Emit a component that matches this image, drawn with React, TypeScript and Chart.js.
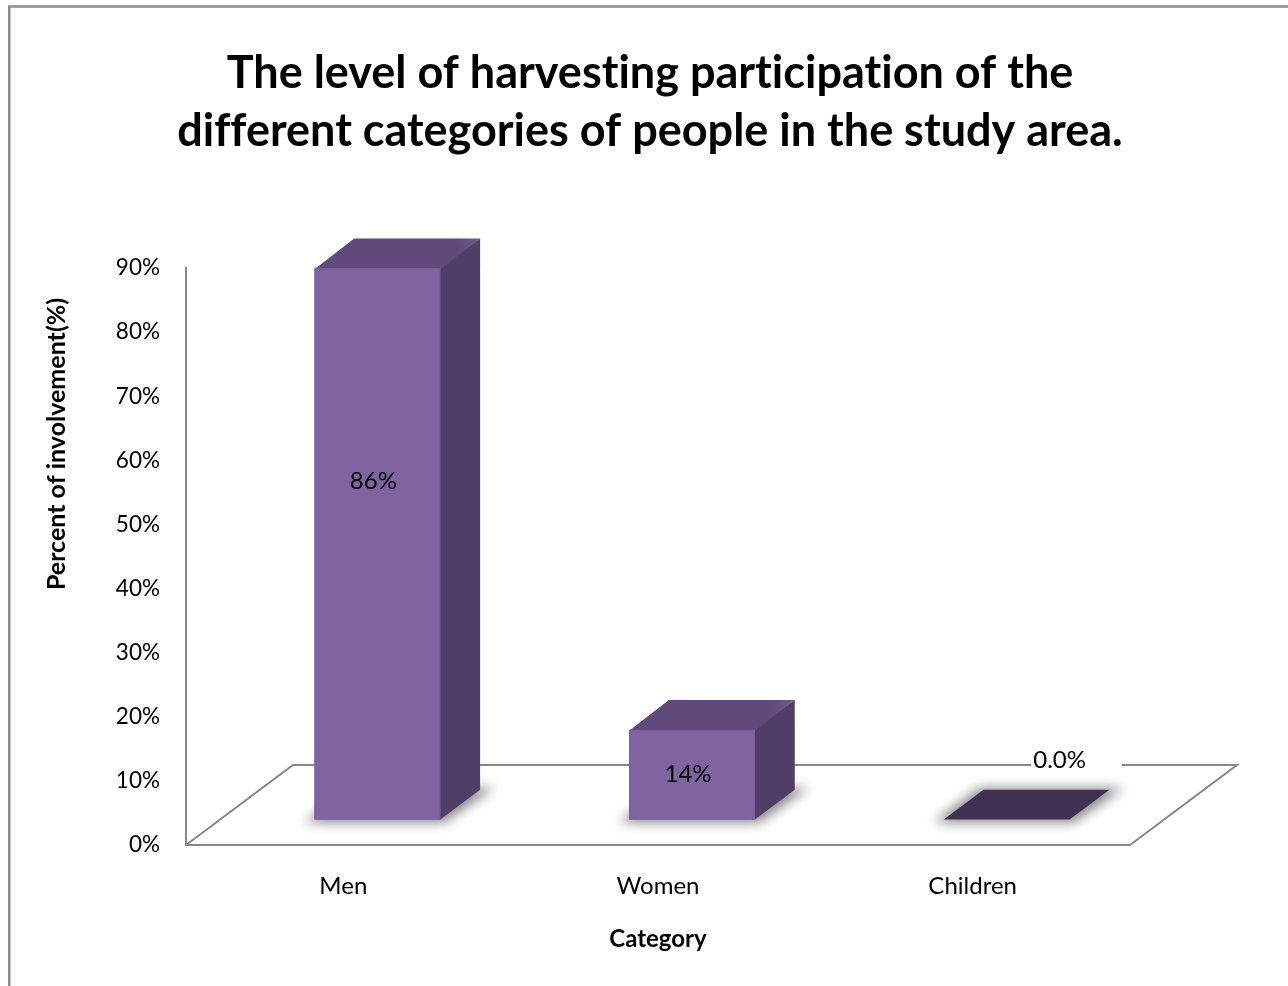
import React, { useEffect, useRef } from "react";
import { Chart, registerables } from "chart.js";

Chart.register(...registerables);

// Share of each group taking part in harvesting (%)
const categories: string[] = ["Men", "Women", "Children"];
const involvement: number[] = [86, 14, 0];
const yTickValues: number[] = [0, 10, 20, 30, 40, 50, 60, 70, 80, 90];

const titleLines: string[] = [
  "The level of harvesting participation of the",
  "different categories of people in the study area.",
];
const yAxisTitle = "Percent of involvement(%)";
const xAxisTitle = "Category";

const FONT = "Lato, 'Open Sans', 'DejaVu Sans', sans-serif";
const AXIS_GREY = "#878787";

const formatValue = (v: number): string => (v === 0 ? v.toFixed(1) + "%" : v + "%");

// Draws the floor, the 3-D bar blocks with their soft base shadows, and the value labels.
const bar3dPlugin = {
  id: "bar3d",
  beforeDraw(chart: any, _args: any, opts: any) {
    const ctx = chart.ctx;
    try {
      (ctx as any).textRendering = "optimizeSpeed";
    } catch (e) {
      /* older canvas */
    }
    ctx.save();
    ctx.fillStyle = "#ffffff";
    ctx.fillRect(0, 0, chart.width, chart.height);
    ctx.strokeStyle = opts.frameColor;
    ctx.lineWidth = 2.5;
    ctx.strokeRect(9.25, 6.5, chart.width + 40, chart.height + 40);
    ctx.restore();
  },
  beforeDatasetsDraw(chart: any, _args: any, opts: any) {
    const ctx = chart.ctx;
    const { left, right } = chart.chartArea;
    const ys = chart.scales.y;
    const D = opts.depth;
    const y0 = ys.getPixelForValue(0);

    // floor outline (front edge comes from the x axis border)
    ctx.save();
    ctx.strokeStyle = AXIS_GREY;
    ctx.lineWidth = 2;
    ctx.beginPath();
    ctx.moveTo(left, y0);
    ctx.lineTo(left + D.dx, y0 + D.dy);
    ctx.lineTo(right + D.dx, y0 + D.dy);
    ctx.lineTo(right, y0);
    ctx.stroke();
    ctx.restore();

    const meta = chart.getDatasetMeta(0);
    const values: number[] = chart.data.datasets[0].data;
    const fx = opts.front * D.dx;
    const fy = opts.front * D.dy;
    const bx = (opts.back - opts.front) * D.dx;
    const by = (opts.back - opts.front) * D.dy;

    const boxes = meta.data.map((el: any, i: number) => {
      const { x, width } = el.getProps(["x", "width"], true);
      const l = x - width / 2 + fx;
      const r = x + width / 2 + fx;
      const b = y0 + fy;
      const t = ys.getPixelForValue(values[i]) + fy;
      return { l, r, b, t, v: values[i] };
    });

    // soft shadows on the floor
    boxes.forEach((q: any) => {
      ctx.save();
      ctx.filter = "blur(6px)";
      ctx.fillStyle = "rgba(40,40,40,0.55)";
      ctx.beginPath();
      ctx.moveTo(q.l - 10, q.b + 3);
      ctx.lineTo(q.r + 4, q.b + 3);
      ctx.lineTo(q.r + bx + 14, q.b + by - 2);
      ctx.lineTo(q.l + bx - 4, q.b + by - 2);
      ctx.closePath();
      ctx.fill();
      ctx.restore();
    });

    // bar blocks
    boxes.forEach((q: any) => {
      const { l, r, b, t } = q;
      ctx.save();
      if (b - t < 1) {
        ctx.fillStyle = opts.flatColor;
        ctx.beginPath();
        ctx.moveTo(l, b);
        ctx.lineTo(r, b);
        ctx.lineTo(r + bx, b + by);
        ctx.lineTo(l + bx, b + by);
        ctx.closePath();
        ctx.fill();
        ctx.restore();
        return;
      }
      // side face (starts a touch under the front face so no seam shows)
      ctx.fillStyle = opts.sideColor;
      ctx.beginPath();
      ctx.moveTo(r - 2, b);
      ctx.lineTo(r - 2, t);
      ctx.lineTo(r + bx, t + by);
      ctx.lineTo(r + bx, b + by);
      ctx.lineTo(r, b);
      ctx.closePath();
      ctx.fill();
      // top face
      const g = ctx.createLinearGradient(l, t, r + bx, t + by);
      g.addColorStop(0, opts.topColor);
      g.addColorStop(0.85, opts.topColor);
      g.addColorStop(1, opts.topLight);
      ctx.fillStyle = g;
      ctx.beginPath();
      ctx.moveTo(l, t + 1);
      ctx.lineTo(r, t + 1);
      ctx.lineTo(r + bx, t + by);
      ctx.lineTo(l + bx, t + by);
      ctx.closePath();
      ctx.fill();
      // front face
      ctx.fillStyle = opts.frontColor;
      ctx.fillRect(l, t, r - l, b - t);
      ctx.strokeStyle = opts.frontEdge;
      ctx.lineWidth = 1;
      ctx.strokeRect(l + 0.5, t + 0.5, r - l - 1, b - t - 1);
      ctx.restore();
    });

    // value labels
    ctx.save();
    ctx.font = `${opts.labelSize}px ${FONT}`;
    ctx.fillStyle = "#000000";
    ctx.textAlign = "center";
    ctx.textBaseline = "middle";
    boxes.forEach((q: any, i: number) => {
      const text = formatValue(q.v);
      if (q.b - q.t < 1) {
        const cx = (q.l + q.r) / 2 + bx / 2 + opts.flatLabel.dx;
        const cy = q.b + by / 2 + opts.flatLabel.dy;
        const w = ctx.measureText(text).width;
        ctx.fillStyle = "#ffffff";
        ctx.fillRect(cx - w / 2 - 2, cy - 12, w + 38, 24);
        ctx.fillStyle = "#000000";
        ctx.fillText(text, cx, cy);
      } else {
        const frac = opts.labelAnchor[i] ?? 0.5;
        const cx = (q.l + q.r) / 2 - 4;
        const cy = q.b - (q.b - q.t) * frac;
        ctx.fillText(text, cx, cy);
      }
    });
    ctx.restore();
    return false;
  },
  afterDraw(chart: any, _args: any, opts: any) {
    // vertical value-axis title, set beside the tick labels
    const ctx = chart.ctx;
    ctx.save();
    ctx.font = `bold ${opts.yTitleSize}px ${FONT}`;
    ctx.fillStyle = "#000000";
    ctx.textAlign = "center";
    ctx.textBaseline = "middle";
    ctx.translate(opts.yTitlePos.x, opts.yTitlePos.y);
    ctx.rotate(-Math.PI / 2);
    ctx.fillText(yAxisTitle, 0, 0);
    ctx.restore();
  },
};

export default function App() {
  const canvasRef = useRef<HTMLCanvasElement | null>(null);

  useEffect(() => {
    const canvas = canvasRef.current;
    if (!canvas) return;
    const chart = new Chart(canvas, {
      type: "bar",
      data: {
        labels: categories,
        datasets: [
          {
            label: "Involvement",
            data: involvement,
            backgroundColor: "#8064A2",
            categoryPercentage: 1,
            barPercentage: 0.4,
          },
        ],
      },
      options: {
        responsive: false,
        animation: false,
        layout: { padding: { left: 12, right: 0, top: 0, bottom: 0 } },
        plugins: {
          legend: { display: false },
          tooltip: { enabled: false },
          title: {
            display: true,
            text: titleLines,
            color: "#000000",
            font: { family: FONT, size: 45, weight: "bold", lineHeight: 1.29 },
            padding: { top: 44, bottom: 108 },
          },
          bar3d: {
            depth: { dx: 107, dy: -80 },
            front: 0.318,
            back: 0.69,
            frontColor: "#8064A2",
            frontEdge: "#7a5f9b",
            sideColor: "#503E67",
            topColor: "#604A7B",
            topLight: "#6f5a8c",
            flatColor: "#403152",
            frameColor: "#8c8c8c",
            labelSize: 24,
            labelAnchor: [0.613, 0.5, 0.5],
            flatLabel: { dx: 33, dy: -44 },
            yTitleSize: 25,
            yTitlePos: { x: 57, y: 444 },
          },
        } as any,
        scales: {
          x: {
            grid: { display: false, drawTicks: false },
            border: { display: true, color: AXIS_GREY, width: 2 },
            ticks: {
              color: "#000000",
              font: { family: FONT, size: 24 },
              padding: 27,
            },
            title: {
              display: true,
              text: xAxisTitle,
              color: "#000000",
              font: { family: FONT, size: 24, weight: "bold" },
              padding: { top: 0, bottom: 32 },
            },
            afterFit: (s: any) => {
              s.height = 141;
            },
          },
          y: {
            min: 0,
            max: 90,
            grid: { display: false, drawTicks: false },
            border: { display: true, color: AXIS_GREY, width: 2 },
            afterBuildTicks: (s: any) => {
              s.ticks = yTickValues.map((v) => ({ value: v }));
            },
            ticks: {
              color: "#000000",
              font: { family: FONT, size: 22.5 },
              padding: 26,
              callback: (v: any) => v + "%",
            },
            title: { display: false },
            afterFit: (s: any) => {
              s.width = 174;
            },
          },
          // empty right-hand gutter that holds the floor's receding edge
          gutter: {
            type: "linear",
            position: "right",
            display: true,
            grid: { display: false, drawTicks: false },
            border: { display: false },
            ticks: { display: false },
            afterFit: (s: any) => {
              s.width = 158;
            },
          },
        } as any,
      },
      plugins: [bar3dPlugin],
    });
    return () => chart.destroy();
  }, []);

  return (
    <div style={{ position: "fixed", left: 0, top: 0, width: 1288, height: 986, background: "#fff" }}>
      <canvas ref={canvasRef} width={1288} height={986} />
    </div>
  );
}
